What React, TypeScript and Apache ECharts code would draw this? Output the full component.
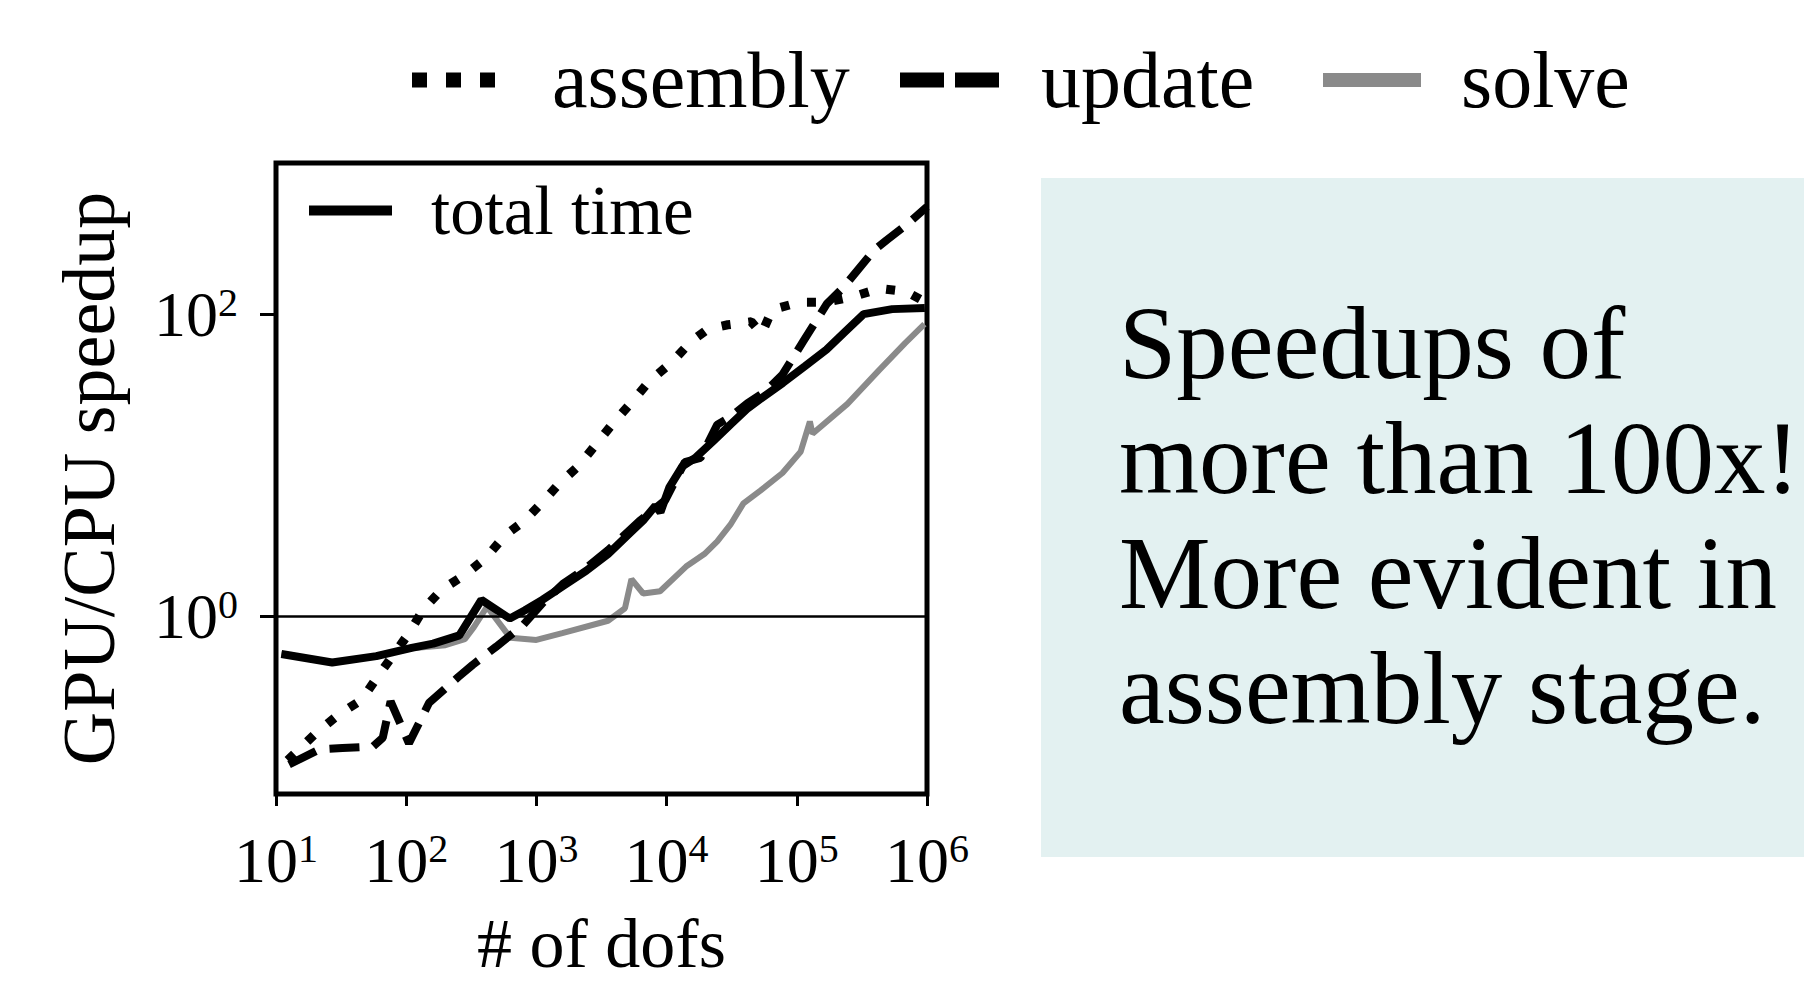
import React, { useEffect, useRef } from "react";
import * as echarts from "echarts";

// ---- data ----
const xAxisTitle = "# of dofs";
const yAxisTitle = "GPU/CPU speedup";
const xTickValues = [10, 100, 1000, 10000, 100000, 1000000];
const yTickValues = [1, 100];

const totalDofs = [11, 27, 59, 110, 161, 256, 378, 624, 818, 1110, 1640, 2420, 3550, 5220, 6590, 8200, 8970, 10500, 13200, 16600, 22700, 30900, 42100, 57300, 78200, 115000, 169000, 230000, 326000, 540000, 962000];
const totalSpeedup = [0.565, 0.497, 0.547, 0.621, 0.662, 0.751, 1.29, 0.97, 1.1, 1.29, 1.61, 2.01, 2.59, 3.56, 4.31, 5.4, 4.9, 7.16, 9.84, 11.2, 14.4, 18.6, 23.9, 29.0, 35.1, 45.2, 58.3, 75.1, 100, 108, 110];

const solveDofs = [11, 27, 59, 110, 200, 282, 331, 417, 631, 1000, 1580, 3550, 4790, 5370, 6610, 8910, 14100, 19500, 24500, 30900, 38900, 52500, 77600, 107000, 126000, 132000, 245000, 427000, 676000, 955000];
const solveSpeedup = [0.565, 0.498, 0.547, 0.617, 0.646, 0.708, 0.851, 1.16, 0.723, 0.7, 0.776, 0.938, 1.135, 1.77, 1.42, 1.47, 2.14, 2.59, 3.14, 4.05, 5.6, 6.8, 8.9, 12.3, 19.5, 16.2, 25.5, 42.5, 64.1, 86.0];

const assemblyDofs = [12.3, 20.4, 30.2, 45.7, 58.9, 105, 135, 186, 282, 407, 575, 813, 1120, 1510, 2090, 2820, 3800, 5250, 7410, 11000, 15500, 20900, 29500, 44700, 53700, 64600, 105000, 170000, 282000, 437000, 692000, 977000];
const assemblySpeedup = [0.112, 0.17, 0.224, 0.282, 0.389, 0.776, 1.11, 1.5, 1.89, 2.43, 3.45, 4.31, 5.74, 7.64, 9.84, 13.5, 18.6, 25.5, 36.2, 48.2, 66.2, 80.0, 85.1, 89.1, 74.1, 107, 120, 120, 132, 148, 141, 120];

const updateDofs = [12.6, 21.4, 32.4, 55.6, 66.1, 75.9, 105, 150, 251, 324, 490, 794, 1120, 1620, 2400, 3550, 6170, 9770, 13800, 18200, 24500, 30900, 41700, 57500, 77600, 112000, 170000, 229000, 389000, 490000, 692000, 1000000];
const updateSpeedup = [0.105, 0.132, 0.135, 0.138, 0.158, 0.275, 0.145, 0.269, 0.398, 0.479, 0.631, 0.881, 1.23, 1.66, 2.09, 2.75, 4.27, 5.89, 10.5, 11.2, 18.6, 20.9, 25.7, 30.9, 39.8, 66.0, 117, 151, 263, 309, 389, 513];

const referenceLine = 1;
const annotationLines = ["Speedups of", "more than 100x!", "More evident in", "assembly stage."];

const serif = "'Liberation Serif', 'Times New Roman', serif";

export default function App() {
  const ref = useRef<HTMLDivElement>(null);

  useEffect(() => {
    if (!ref.current) return;
    const chart = echarts.init(ref.current, null, { renderer: "svg" });
    const pair = (xs: number[], ys: number[]) => xs.map((x, i) => [x, ys[i]]);
    const powLabel = (v: number) => `{b|10}{s|${Math.round(Math.log10(v))}}`;
    const labelRich = {
      b: { fontFamily: serif, fontSize: 64, lineHeight: 64, color: "#000" },
      s: { fontFamily: serif, fontSize: 40, lineHeight: 36, verticalAlign: "top", color: "#000" },
    };
    const assemblyIcon = "path://M0,0h15v15h-15z M34,0h15v15h-15z M68,0h15v15h-15z";
    const updateIcon = "path://M0,0h44v15h-44z M55,0h44v15h-44z";
    const legendText = (size: number, gap: number) => ({
      fontFamily: serif,
      fontSize: size,
      color: "#000",
      padding: [0, 0, 0, gap],
    });
    const legendBase = {
      padding: 0,
      orient: "horizontal",
      selectedMode: false,
      itemStyle: { borderWidth: 0 },
    };

    chart.setOption({
      animation: false,
      backgroundColor: "#ffffff",
      grid: {
        left: 276,
        top: 163,
        width: 651,
        height: 631,
        show: true,
        borderColor: "#000",
        borderWidth: 5,
        backgroundColor: "transparent",
        containLabel: false,
        outerBoundsMode: "none",
      },
      legend: [
        {
          ...legendBase,
          data: [{ name: "assembly", icon: assemblyIcon }],
          left: 412,
          top: 40,
          itemWidth: 83,
          itemHeight: 15,
          textStyle: legendText(80, 52),
        },
        {
          ...legendBase,
          data: [{ name: "update", icon: updateIcon }],
          left: 900,
          top: 40,
          itemWidth: 99,
          itemHeight: 15,
          textStyle: legendText(80, 37),
        },
        {
          ...legendBase,
          data: [{ name: "solve", icon: "rect" }],
          left: 1323,
          top: 40,
          itemWidth: 98,
          itemHeight: 14,
          textStyle: legendText(80, 35),
        },
        {
          ...legendBase,
          data: [{ name: "total time", icon: "rect" }],
          left: 309,
          top: 176,
          itemWidth: 83,
          itemHeight: 10,
          textStyle: legendText(69, 34),
        },
      ],
      xAxis: {
        type: "log",
        min: 10,
        max: 1000000,
        axisLine: { show: false },
        splitLine: { show: false },
        axisTick: { show: true, length: 12, lineStyle: { color: "#000", width: 3 }, customValues: xTickValues },
        axisLabel: { customValues: xTickValues, formatter: powLabel, margin: 34, rich: labelRich },
        name: xAxisTitle,
        nameLocation: "middle",
        nameGap: 114,
        nameMoveOverlap: false,
        nameTextStyle: { fontFamily: serif, fontSize: 70, lineHeight: 70, color: "#000" },
      },
      yAxis: {
        type: "log",
        min: 0.067,
        max: 1000,
        axisLine: { show: false },
        splitLine: { show: false },
        axisTick: { show: true, length: 16, lineStyle: { color: "#000", width: 3 }, customValues: yTickValues },
        axisLabel: { customValues: yTickValues, formatter: powLabel, margin: 38, rich: labelRich },
        name: yAxisTitle,
        nameLocation: "middle",
        nameGap: 150,
        nameMoveOverlap: false,
        nameTextStyle: { fontFamily: serif, fontSize: 74, color: "#000" },
      },
      series: [
        {
          name: "solve",
          type: "line",
          data: pair(solveDofs, solveSpeedup),
          symbol: "none",
          color: "#8a8a8a",
          lineStyle: { color: "#8a8a8a", width: 6 },
        },
        {
          name: "total time",
          type: "line",
          data: pair(totalDofs, totalSpeedup),
          symbol: "none",
          color: "#000",
          lineStyle: { color: "#000", width: 8 },
          markLine: {
            silent: true,
            symbol: ["none", "none"],
            label: { show: false },
            lineStyle: { color: "#000", width: 2.5, type: "solid" },
            data: [{ yAxis: referenceLine }],
          },
        },
        {
          name: "update",
          type: "line",
          data: pair(updateDofs, updateSpeedup),
          symbol: "none",
          color: "#000",
          lineStyle: { color: "#000", width: 8, type: [30, 14], cap: "butt" },
        },
        {
          name: "assembly",
          type: "line",
          data: pair(assemblyDofs, assemblySpeedup),
          symbol: "none",
          color: "#000",
          lineStyle: { color: "#000", width: 9, type: [9, 18], cap: "butt" },
        },
      ],
      graphic: [
        {
          type: "rect",
          x: 1041,
          y: 178,
          z: -10,
          silent: true,
          shape: { width: 780, height: 679 },
          style: { fill: "#E3F1F1" },
        },
        {
          type: "text",
          x: 1119,
          y: 285,
          silent: true,
          style: {
            text: annotationLines.join("\n"),
            fontFamily: serif,
            fontSize: 103,
            lineHeight: 115,
            fill: "#000",
            verticalAlign: "top",
            align: "left",
          },
        },
      ],
    });

    return () => chart.dispose();
  }, []);

  return (
    <div
      ref={ref}
      style={{ position: "fixed", left: 0, top: 0, width: 1804, height: 984 }}
    />
  );
}
